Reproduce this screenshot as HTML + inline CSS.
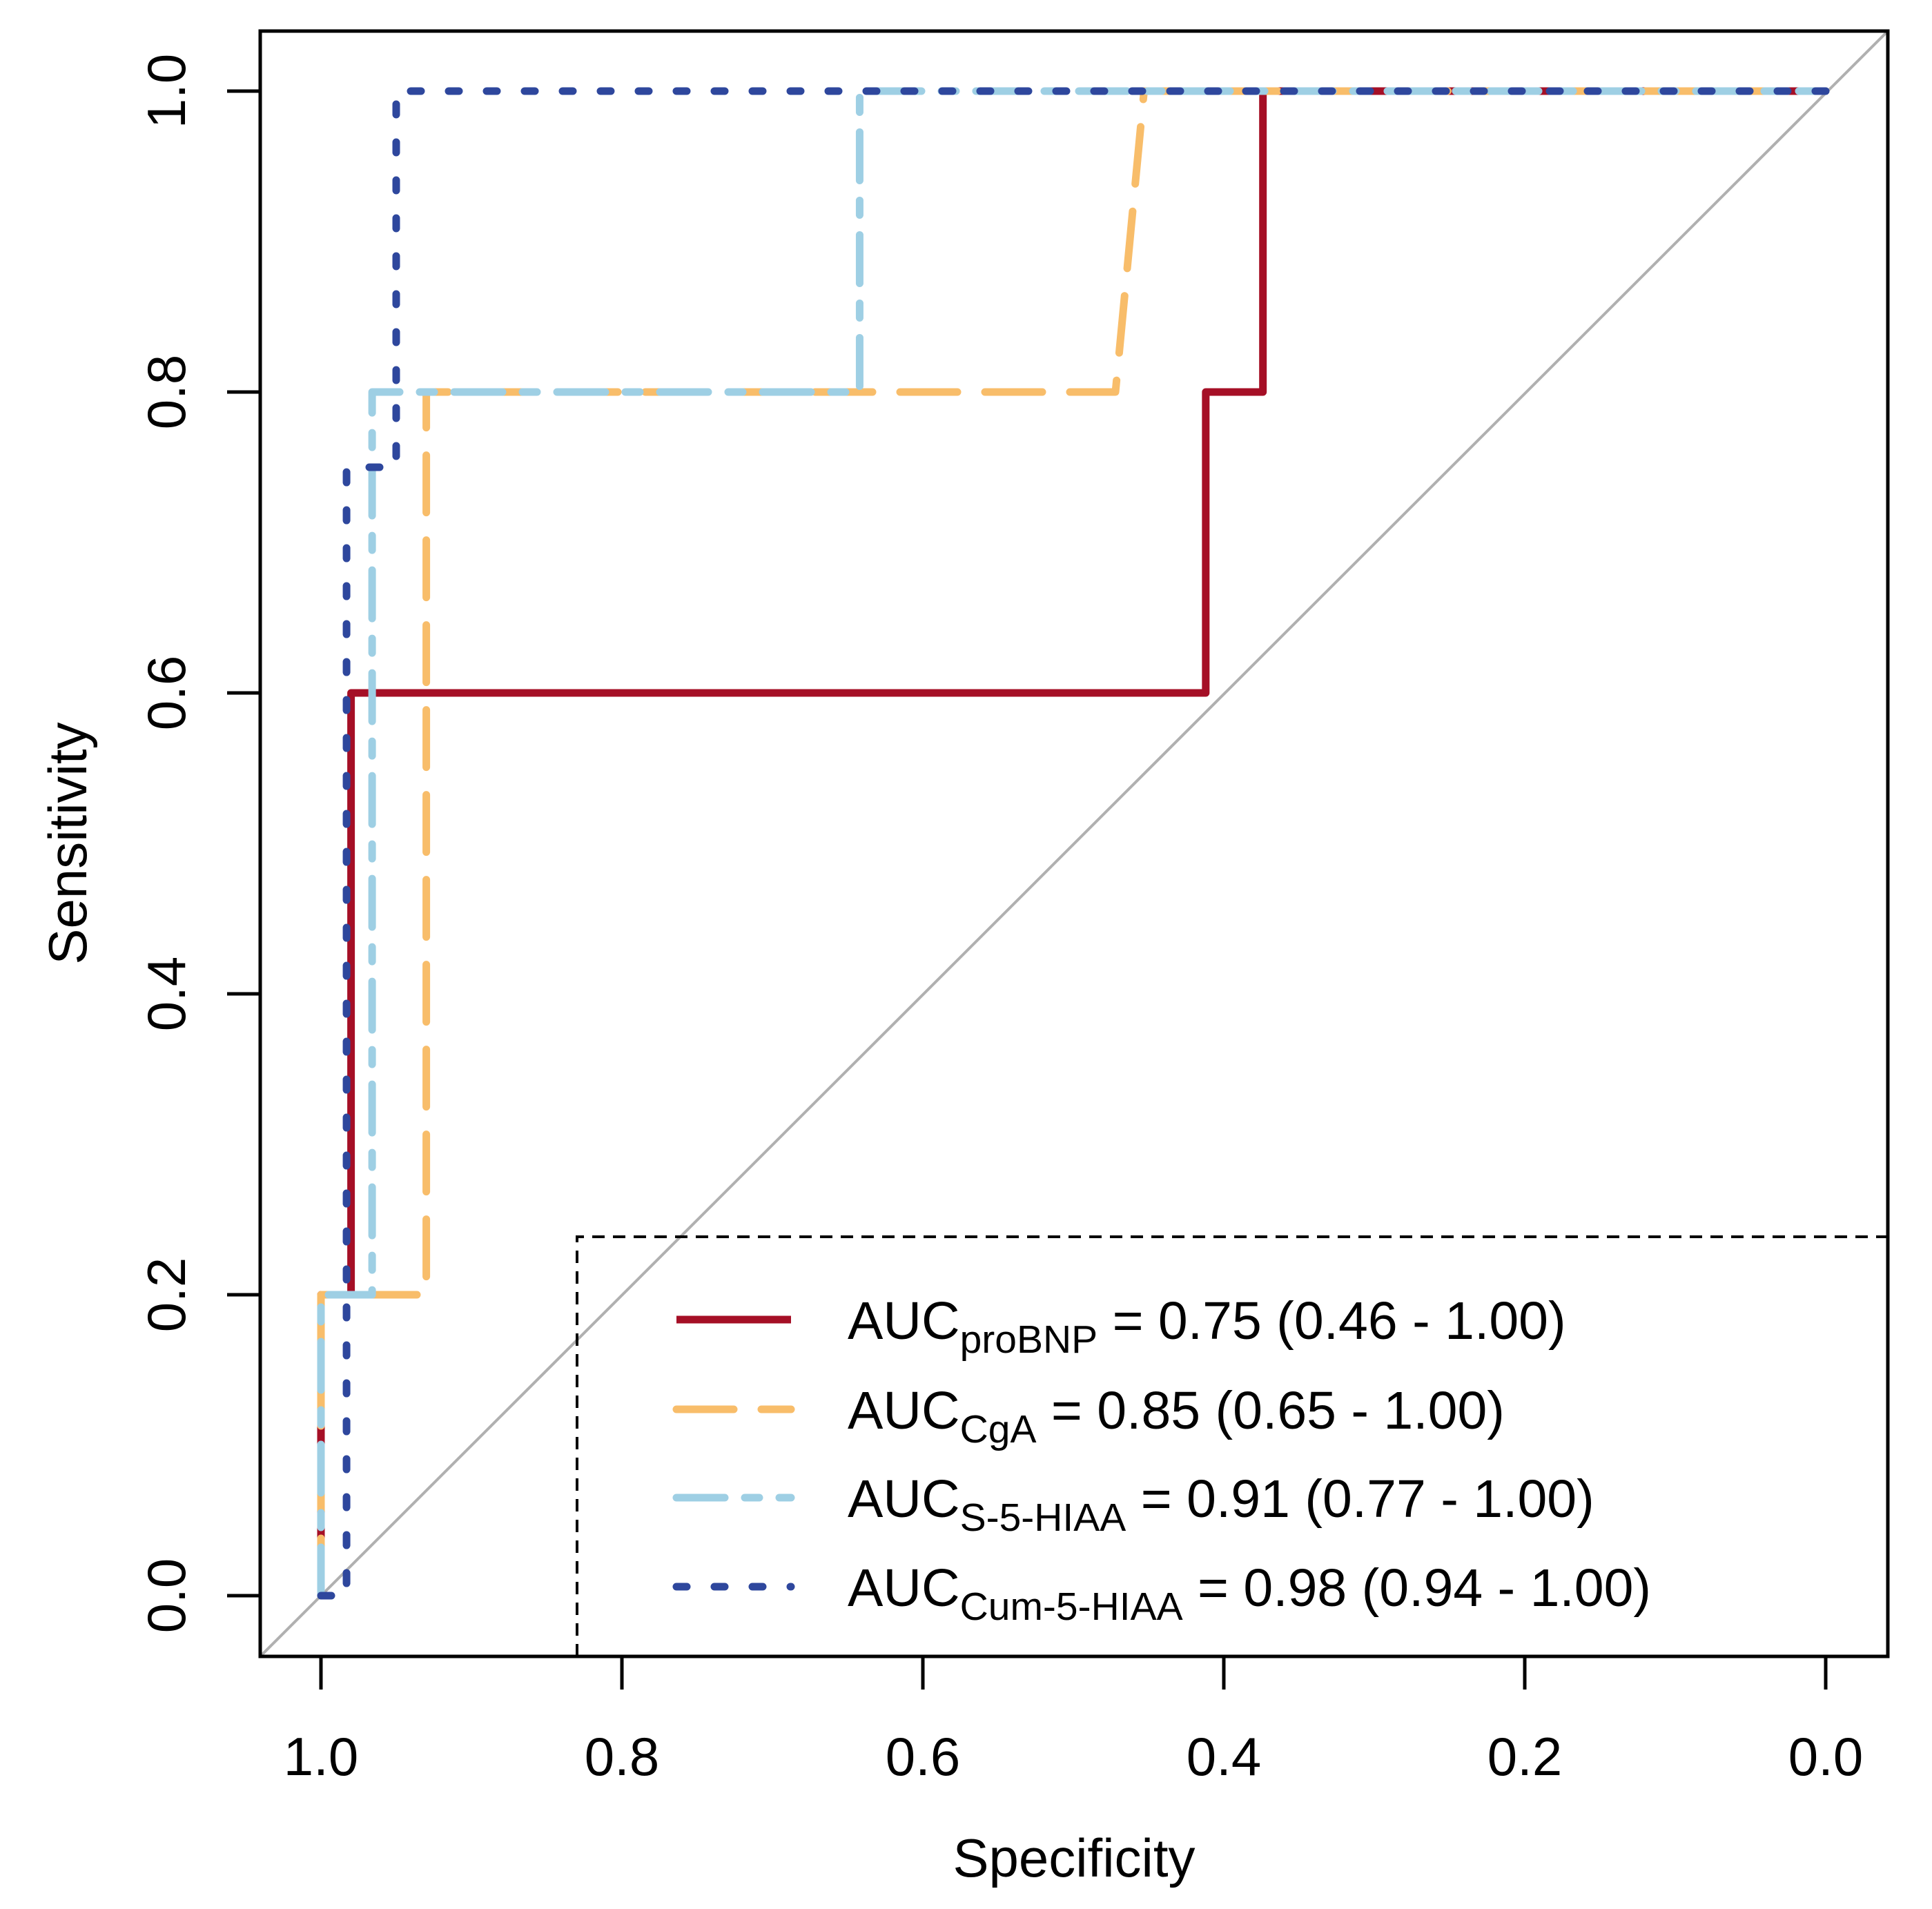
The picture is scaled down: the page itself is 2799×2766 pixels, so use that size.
<!DOCTYPE html>
<html><head><meta charset="utf-8"><style>
html,body{margin:0;padding:0;background:#fff;}
svg{display:block;font-family:"Liberation Sans",Arial,sans-serif;}
</style></head><body>
<svg id="chart" width="2799" height="2766" viewBox="0 0 2799 2766" xmlns="http://www.w3.org/2000/svg">
<defs><clipPath id="plotclip"><rect x="377" y="45" width="2358" height="2355"/></clipPath></defs>
<rect x="0" y="0" width="2799" height="2766" fill="#fff"/>
<line x1="377" y1="2400" x2="2735" y2="45" stroke="#b0b0b0" stroke-width="4" clip-path="url(#plotclip)"/>
<g id="series" clip-path="url(#plotclip)"></g>
<rect x="377" y="45" width="2358" height="2355" fill="none" stroke="#000" stroke-width="5"/>
<g id="axes"></g>
<g id="legend">
<path d="M836 2400 L836 1792 L2735 1792" fill="none" stroke="#000" stroke-width="4" stroke-dasharray="18 12"/>
</g>
<text x="1556" y="2719" font-size="78" text-anchor="middle">Specificity</text>
<text x="125" y="1222" font-size="78" text-anchor="middle" transform="rotate(-90 125 1222)">Sensitivity</text>
</svg>
<script>
const xTicks = [1.0, 0.8, 0.6, 0.4, 0.2, 0.0];
const xTickLabels = ["1.0", "0.8", "0.6", "0.4", "0.2", "0.0"];
const yTicks = [0.0, 0.2, 0.4, 0.6, 0.8, 1.0];
const yTickLabels = ["0.0", "0.2", "0.4", "0.6", "0.8", "1.0"];

const proBNPSpec = [1, 1, 0.98, 0.98, 0.412, 0.412, 0.374, 0.374, 0];
const proBNPSens = [0, 0.2, 0.2, 0.6, 0.6, 0.8, 0.8, 1, 1];
const cgaSpec = [1, 1, 0.93, 0.93, 0.472, 0.453, 0];
const cgaSens = [0, 0.2, 0.2, 0.8, 0.8, 1, 1];
const s5Spec = [1, 1, 0.966, 0.966, 0.642, 0.642, 0];
const s5Sens = [0, 0.2, 0.2, 0.8, 0.8, 1, 1];
const cumSpec = [1, 0.983, 0.983, 0.95, 0.95, 0];
const cumSens = [0, 0, 0.75, 0.75, 1, 1];

const legendMain = ["AUC", "AUC", "AUC", "AUC"];
const legendSub = ["proBNP", "CgA", "S-5-HIAA", "Cum-5-HIAA"];
const legendRest = [" = 0.75 (0.46 - 1.00)", " = 0.85 (0.65 - 1.00)", " = 0.91 (0.77 - 1.00)", " = 0.98 (0.94 - 1.00)"];

const NS = "http://www.w3.org/2000/svg";
function sx(v){ return 465 + (1 - v) * 2180; }
function sy(v){ return 2312 - v * 2180; }

const styles = [
  {name:"series-probnp", color:"#a50f26", dash:""},
  {name:"series-cga", color:"#f8bd6a", dash:"83 40"},
  {name:"series-s-5-hiaa", color:"#9ecfe4", dash:"70 29 21 29"},
  {name:"series-cum-5-hiaa", color:"#2e479d", dash:"15 40"}
];
const specs = [proBNPSpec, cgaSpec, s5Spec, cumSpec];
const sens = [proBNPSens, cgaSens, s5Sens, cumSens];

const sg = document.getElementById("series");
for (let i = 0; i < 4; i++) {
  const p = document.createElementNS(NS, "polyline");
  p.setAttribute("points", specs[i].map((s, j) => sx(s) + "," + sy(sens[i][j])).join(" "));
  p.setAttribute("fill", "none");
  p.setAttribute("stroke", styles[i].color);
  p.setAttribute("stroke-width", "11");
  p.setAttribute("stroke-linecap", i === 0 ? "butt" : "round");
  p.setAttribute("stroke-linejoin", "round");
  if (styles[i].dash) p.setAttribute("stroke-dasharray", styles[i].dash);
  
  
  sg.appendChild(p);
}

const ag = document.getElementById("axes");
xTicks.forEach((v, i) => {
  const l = document.createElementNS(NS, "line");
  l.setAttribute("x1", sx(v)); l.setAttribute("x2", sx(v));
  l.setAttribute("y1", 2400); l.setAttribute("y2", 2448);
  l.setAttribute("stroke", "#000"); l.setAttribute("stroke-width", "5");
  
  
  ag.appendChild(l);
  const t = document.createElementNS(NS, "text");
  t.setAttribute("x", sx(v)); t.setAttribute("y", 2572);
  t.setAttribute("font-size", "78"); t.setAttribute("text-anchor", "middle");
  t.textContent = xTickLabels[i];
  
  
  ag.appendChild(t);
});
yTicks.forEach((v, i) => {
  const l = document.createElementNS(NS, "line");
  l.setAttribute("x1", 329); l.setAttribute("x2", 377);
  l.setAttribute("y1", sy(v)); l.setAttribute("y2", sy(v));
  l.setAttribute("stroke", "#000"); l.setAttribute("stroke-width", "5");
  
  
  ag.appendChild(l);
  const t = document.createElementNS(NS, "text");
  const x = 268, y = sy(v);
  t.setAttribute("x", x); t.setAttribute("y", y);
  t.setAttribute("font-size", "78"); t.setAttribute("text-anchor", "middle");
  t.setAttribute("transform", "rotate(-90 " + x + " " + y + ")");
  t.textContent = yTickLabels[i];
  
  
  ag.appendChild(t);
});

const lg = document.getElementById("legend");
const rowY = [1912, 2042, 2170, 2299];
for (let i = 0; i < 4; i++) {
  const l = document.createElementNS(NS, "line");
  l.setAttribute("x1", 980); l.setAttribute("x2", 1146);
  l.setAttribute("y1", rowY[i]); l.setAttribute("y2", rowY[i]);
  l.setAttribute("stroke", styles[i].color); l.setAttribute("stroke-width", "11");
  l.setAttribute("stroke-linecap", i === 0 ? "butt" : "round");
  if (styles[i].dash) l.setAttribute("stroke-dasharray", styles[i].dash);
  
  
  lg.appendChild(l);
  const t = document.createElementNS(NS, "text");
  t.setAttribute("x", 1228); t.setAttribute("y", rowY[i] + 28);
  t.setAttribute("font-size", "77");
  const a = document.createElementNS(NS, "tspan"); a.textContent = legendMain[i];
  const b = document.createElementNS(NS, "tspan"); b.textContent = legendSub[i];
  b.setAttribute("font-size", "57"); b.setAttribute("dy", "20");
  const c = document.createElementNS(NS, "tspan"); c.textContent = legendRest[i];
  c.setAttribute("dy", "-20");
  t.appendChild(a); t.appendChild(b); t.appendChild(c);
  
  
  lg.appendChild(t);
}
</script>
</body></html>
